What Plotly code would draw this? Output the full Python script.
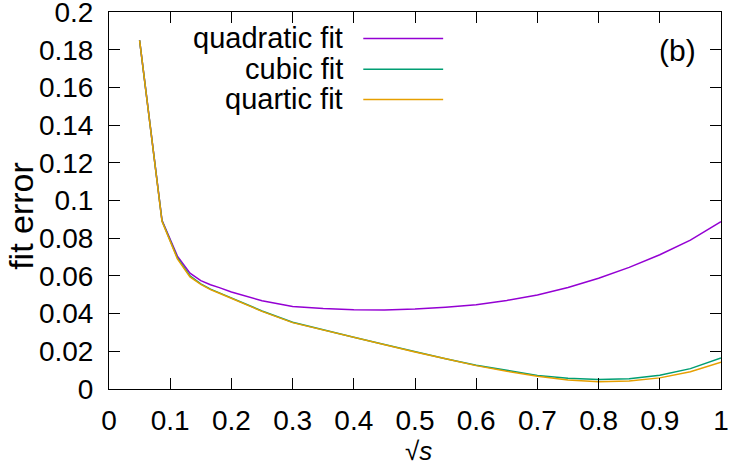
import plotly.graph_objects as go

# sqrt(s) sample points
x_vals = [0.05, 0.0866, 0.1118, 0.1323, 0.15, 0.1658, 0.1803, 0.2, 0.25, 0.3,
          0.35, 0.4, 0.45, 0.5, 0.55, 0.6, 0.65, 0.7, 0.75, 0.8,
          0.85, 0.9, 0.95, 1.0]

quadratic = [0.185, 0.0895, 0.0705, 0.0615, 0.0575, 0.0553, 0.0538, 0.0515, 0.0468, 0.0438,
             0.0427, 0.0421, 0.0419, 0.0424, 0.0434, 0.0447, 0.0470, 0.0499, 0.0538, 0.0588,
             0.0645, 0.0712, 0.0790, 0.0888]

cubic = [0.185, 0.0892, 0.0695, 0.0600, 0.0558, 0.0530, 0.0510, 0.0483, 0.0414, 0.0354,
         0.0313, 0.0275, 0.0236, 0.0197, 0.0161, 0.0126, 0.0097, 0.0072, 0.0057, 0.0050,
         0.0055, 0.0073, 0.0108, 0.0165]

quartic = [0.185, 0.0890, 0.0690, 0.0595, 0.0555, 0.0527, 0.0508, 0.0480, 0.0412, 0.0352,
           0.0312, 0.0274, 0.0235, 0.0196, 0.0160, 0.0124, 0.0094, 0.0068, 0.0048, 0.0038,
           0.0042, 0.0059, 0.0092, 0.0142]

names = ["quadratic fit", "cubic fit", "quartic fit"]
colors = ["#9400D3", "#009E73", "#E69F00"]

x_ticks = [0, 0.1, 0.2, 0.3, 0.4, 0.5, 0.6, 0.7, 0.8, 0.9, 1.0]
x_ticktext = ["0", "0.1", "0.2", "0.3", "0.4", "0.5", "0.6", "0.7", "0.8", "0.9", "1"]
y_ticks = [0, 0.02, 0.04, 0.06, 0.08, 0.1, 0.12, 0.14, 0.16, 0.18, 0.2]
y_ticktext = ["0", "0.02", "0.04", "0.06", "0.08", "0.1", "0.12", "0.14", "0.16", "0.18", "0.2"]

FONT = "Liberation Sans, Arial, sans-serif"

fig = go.Figure()
for name, ys, c in zip(names, [quadratic, cubic, quartic], colors):
    fig.add_trace(go.Scatter(x=x_vals, y=ys, mode="lines", name=name,
                             line=dict(color=c, width=1.5), showlegend=False))

# gnuplot-style key: text right-aligned, sample line to the right
key_y = [0.930, 0.848, 0.768]
for name, c, ky in zip(names, colors, key_y):
    fig.add_annotation(x=0.386, y=ky, xref="paper", yref="paper", text=name,
                       showarrow=False, xanchor="right", yanchor="middle",
                       font=dict(size=29, color="black", family=FONT))
    fig.add_shape(type="line", xref="paper", yref="paper",
                  x0=0.4155, x1=0.546, y0=ky, y1=ky,
                  line=dict(color=c, width=1.5))

fig.add_annotation(x=0.929, y=0.898, xref="paper", yref="paper", text="(b)",
                   showarrow=False, xanchor="center", yanchor="middle",
                   font=dict(size=30, color="black", family=FONT))

# axis titles
fig.add_annotation(x=-0.144, y=0.459, xref="paper", yref="paper", text="fit error",
                   textangle=-90, showarrow=False, xanchor="center", yanchor="middle",
                   font=dict(size=34, color="black", family=FONT))
fig.add_annotation(x=0.505, y=-0.165, xref="paper", yref="paper", text="√<i>s</i>",
                   showarrow=False, xanchor="center", yanchor="middle",
                   font=dict(size=26, color="black", family=FONT))

axis_common = dict(showline=True, linecolor="black", linewidth=1, mirror="ticks",
                   ticks="inside", ticklen=11, tickcolor="black", tickwidth=1,
                   showgrid=False, zeroline=False, automargin=False,
                   ticklabeloverflow="allow",
                   tickfont=dict(size=28, color="black", family=FONT))

fig.update_xaxes(range=[0, 1.00001], tickvals=x_ticks, ticktext=x_ticktext,
                 ticklabelstandoff=6, **axis_common)
fig.update_yaxes(range=[0, 0.20001], tickvals=y_ticks, ticktext=y_ticktext,
                 ticklabelstandoff=9, **axis_common)

fig.update_layout(width=747, height=469,
                  margin=dict(l=109, r=26, t=12, b=80),
                  plot_bgcolor="white", paper_bgcolor="white",
                  font=dict(family=FONT, color="black"))

# drop the default page margin so the figure sits at the window's corner
fig.write_html("out.html", config={"displayModeBar": False},
               post_script="document.body.style.margin='0';")
